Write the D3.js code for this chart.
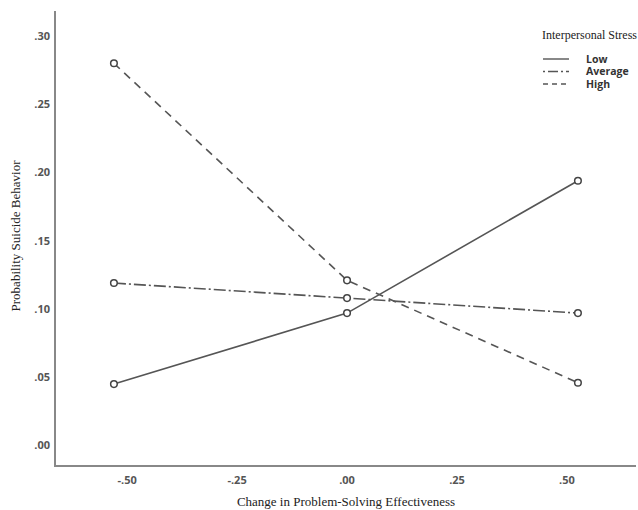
<!DOCTYPE html>
<html>
<head>
<meta charset="utf-8">
<script src="https://cdn.jsdelivr.net/npm/d3@7"></script>
<style>
  body { margin: 0; background: #fff; }
  svg { display: block; }
</style>
</head>
<body>
<svg id="chart" width="638" height="510"></svg>
<script>
// change in problem-solving effectiveness (x) and the 3 stress levels
const xValues = [-0.53, 0.0, 0.525]
const seriesNames = ['Low', 'Average', 'High']
const lowValues = [0.045, 0.097, 0.194]
const averageValues = [0.119, 0.108, 0.097]
const highValues = [0.280, 0.121, 0.046]
const xTicks = [-0.5, -0.25, 0, 0.25, 0.5]
const yTicks = [0, 0.05, 0.10, 0.15, 0.20, 0.25, 0.30]

const dashes = {
  Low: null,
  Average: '12,3,2,3',
  High: '8,6'
}

const series = [
  { name: 'Low', values: lowValues },
  { name: 'Average', values: averageValues },
  { name: 'High', values: highValues }
]

const svg = d3.select('#chart')
const ink = '#555'

const x = d3.scaleLinear().domain([-0.664, 0.657]).range([55, 636])
const y = d3.scaleLinear().domain([0, 0.30]).range([445.5, 36])

const fmt = d => (d < 0 ? '-' : '') + d3.format('.2f')(Math.abs(d)).replace(/^0/, '')

// axes lines
svg.append('line')
  .attr('x1', x.range()[0]).attr('x2', x.range()[1])
  .attr('y1', 466).attr('y2', 466)
  .attr('stroke', '#888').attr('stroke-width', 2)
svg.append('line')
  .attr('x1', 55).attr('x2', 55)
  .attr('y1', 11).attr('y2', 467)
  .attr('stroke', '#888').attr('stroke-width', 2)

// tick labels
svg.append('g').selectAll('text')
  .data(yTicks)
  .join('text')
  .attr('x', 50)
  .attr('y', d => y(d))
  .attr('dy', '0.35em')
  .attr('text-anchor', 'end')
  .attr('font-family', 'Open Sans, sans-serif')
  .attr('font-weight', 'bold')
  .attr('font-size', '11px')
  .attr('fill', ink)
  .text(fmt)

svg.append('g').selectAll('text')
  .data(xTicks)
  .join('text')
  .attr('x', d => x(d))
  .attr('y', 480)
  .attr('dy', '0.35em')
  .attr('text-anchor', 'middle')
  .attr('font-family', 'Open Sans, sans-serif')
  .attr('font-weight', 'bold')
  .attr('font-size', '11px')
  .attr('fill', ink)
  .text(fmt)

// axis titles
svg.append('text')
  .attr('x', 346).attr('y', 506)
  .attr('text-anchor', 'middle')
  .attr('font-family', 'Liberation Serif, Times New Roman, serif')
  .attr('font-size', '13px')
  .attr('fill', '#222')
  .text('Change in Problem-Solving Effectiveness')

svg.append('text')
  .attr('transform', 'translate(20,236) rotate(-90)')
  .attr('text-anchor', 'middle')
  .attr('font-family', 'Liberation Serif, Times New Roman, serif')
  .attr('font-size', '13px')
  .attr('fill', '#222')
  .text('Probability Suicide Behavior')

// lines
const line = d3.line()
  .x((d, i) => x(xValues[i]))
  .y(d => y(d))

const groups = svg.append('g').selectAll('g')
  .data(series)
  .join('g')

groups.append('path')
  .attr('d', d => line(d.values))
  .attr('fill', 'none')
  .attr('stroke', ink)
  .attr('stroke-width', 1.6)
  .attr('stroke-dasharray', d => dashes[d.name])

groups.selectAll('circle')
  .data(d => d.values)
  .join('circle')
  .attr('cx', (d, i) => x(xValues[i]))
  .attr('cy', d => y(d))
  .attr('r', 3.3)
  .attr('fill', '#fff')
  .attr('stroke', '#444')
  .attr('stroke-width', 1.5)

// legend
svg.append('text')
  .attr('x', 637).attr('y', 39)
  .attr('text-anchor', 'end')
  .attr('font-family', 'Liberation Serif, Times New Roman, serif')
  .attr('font-size', '12px')
  .attr('fill', '#222')
  .text('Interpersonal Stress')

const legend = svg.append('g').selectAll('g')
  .data(seriesNames)
  .join('g')
  .attr('transform', (d, i) => `translate(0,${59 + i * 12.5})`)

legend.append('line')
  .attr('x1', 543).attr('x2', 569)
  .attr('stroke', ink)
  .attr('stroke-width', 1.4)
  .attr('stroke-dasharray', d => d === 'High' ? '5,4' : d === 'Average' ? '2,3,10,3' : null)

legend.append('text')
  .attr('x', 586)
  .attr('dy', '0.35em')
  .attr('font-family', 'Open Sans, sans-serif')
  .attr('font-weight', 'bold')
  .attr('font-size', '10.5px')
  .attr('fill', '#333')
  .text(d => d)
</script>
</body>
</html>
